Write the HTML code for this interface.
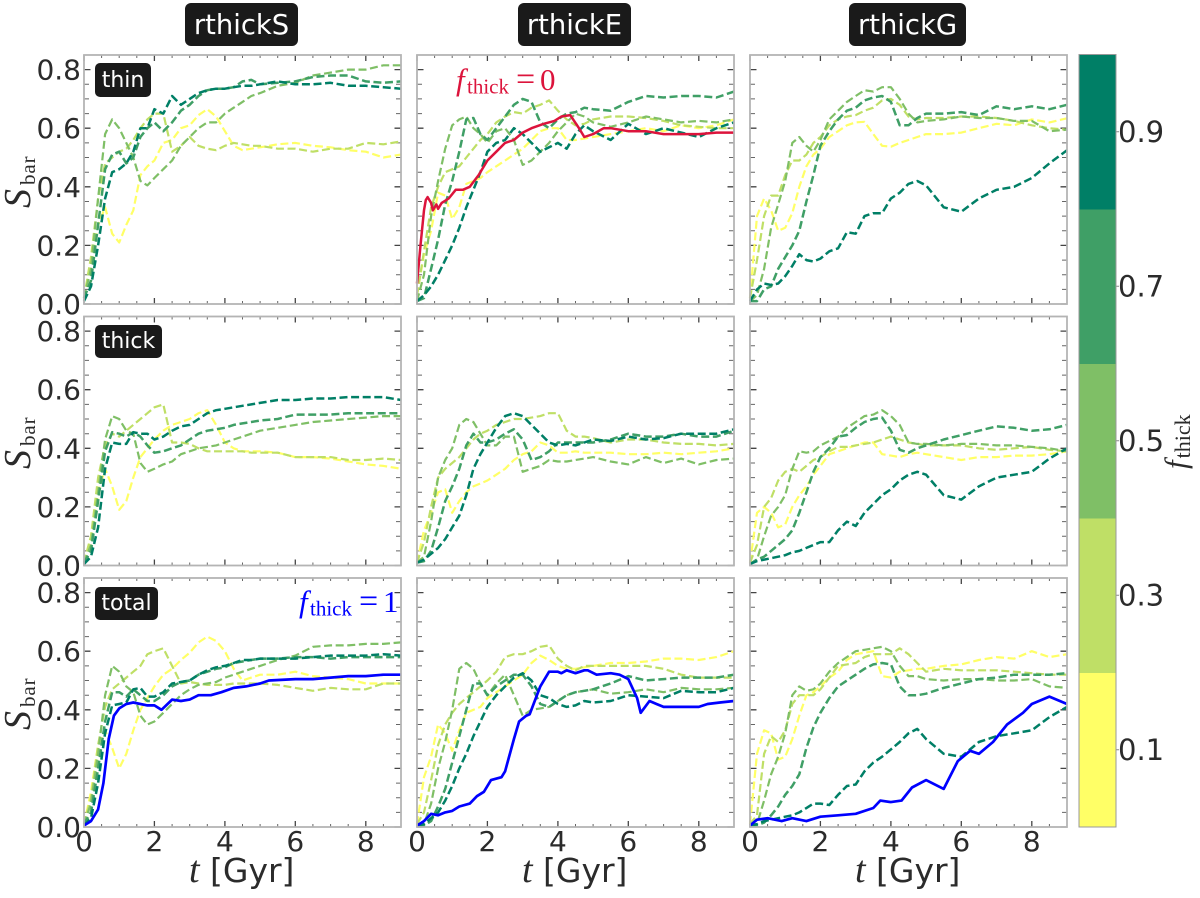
<!DOCTYPE html>
<html lang="en">
<head>
<meta charset="utf-8">
<title>Bar strength evolution</title>
<style>
html,body{margin:0;padding:0;background:#fff;width:1200px;height:898px;overflow:hidden}
svg{display:block}
text{font-family:"DejaVu Sans",sans-serif;fill:#2b2b2b}
.m{font-family:"Liberation Serif",serif}
.i{font-style:italic}
</style>
</head>
<body>
<svg id="chart" xmlns="http://www.w3.org/2000/svg" width="1200" height="898" viewBox="0 0 1200 898">
  <rect x="0" y="0" width="1200" height="898" fill="#fff"/>
  <g id="panels"></g>
  <g id="colorbar"></g>

  <rect x="185" y="3" width="113" height="43" rx="6" fill="#1a1a1a"/>
  <text x="241.5" y="34" text-anchor="middle" font-size="27.4" style="fill:#fff">rthickS</text>
  <rect x="518" y="3" width="113" height="43" rx="6" fill="#1a1a1a"/>
  <text x="574.5" y="34" text-anchor="middle" font-size="27.4" style="fill:#fff">rthickE</text>
  <rect x="849" y="3" width="117" height="43" rx="6" fill="#1a1a1a"/>
  <text x="907.5" y="34" text-anchor="middle" font-size="27.4" style="fill:#fff">rthickG</text>

  <rect x="95" y="63" width="56" height="34" rx="5" fill="#1a1a1a"/>
  <text x="123" y="87" text-anchor="middle" font-size="22" style="fill:#fff">thin</text>
  <rect x="95" y="325" width="67" height="33" rx="5" fill="#1a1a1a"/>
  <text x="128.5" y="348" text-anchor="middle" font-size="22" style="fill:#fff">thick</text>
  <rect x="95" y="587" width="63" height="33" rx="5" fill="#1a1a1a"/>
  <text x="126.5" y="610" text-anchor="middle" font-size="22" style="fill:#fff">total</text>

  <text class="m" y="90" style="fill:#dc143c"><tspan class="i" x="456" font-size="31" style="fill:#dc143c">f</tspan><tspan x="467" dy="3.5" font-size="21" style="fill:#dc143c">thick</tspan><tspan x="516" dy="-3.5" font-size="34" style="fill:#dc143c">=</tspan><tspan x="540" font-size="31" style="fill:#dc143c">0</tspan></text>
  <text class="m" y="612" style="fill:#0000ff"><tspan class="i" x="299" font-size="31" style="fill:#0000ff">f</tspan><tspan x="310" dy="3.5" font-size="21" style="fill:#0000ff">thick</tspan><tspan x="359" dy="-3.5" font-size="34" style="fill:#0000ff">=</tspan><tspan x="383" font-size="31" style="fill:#0000ff">1</tspan></text>

  <text class="m" transform="translate(30 208) rotate(-90)"><tspan class="i" font-size="38">S</tspan><tspan dx="4" dy="5" font-size="21" letter-spacing="0.9">bar</tspan></text>
  <text class="m" transform="translate(30 469) rotate(-90)"><tspan class="i" font-size="38">S</tspan><tspan dx="4" dy="5" font-size="21" letter-spacing="0.9">bar</tspan></text>
  <text class="m" transform="translate(30 730) rotate(-90)"><tspan class="i" font-size="38">S</tspan><tspan dx="4" dy="5" font-size="21" letter-spacing="0.9">bar</tspan></text>

  <text y="882" font-size="33"><tspan class="m i" x="189" font-size="38">t</tspan><tspan x="210">[Gyr]</tspan></text>
  <text y="882" font-size="33"><tspan class="m i" x="522" font-size="38">t</tspan><tspan x="543">[Gyr]</tspan></text>
  <text y="882" font-size="33"><tspan class="m i" x="855" font-size="38">t</tspan><tspan x="876">[Gyr]</tspan></text>

  <text class="m" transform="translate(1186 469) rotate(-90)"><tspan class="i" font-size="31">f</tspan><tspan dx="2" dy="4" font-size="22">thick</tspan></text>
</svg>
<script>
// shared time grid (Gyr) for the dashed runs
const times = [0,.2,.4,.6,.8,1, 1.2,1.4,1.6,1.8,2, 2.25,2.5,2.75,3,3.25, 3.5,3.75,4,4.25,4.5, 4.75,5,5.5,6,6.5, 7,7.5,8,8.5,9];

// row "thin", column rthickS
const thinS_f1 = [.02,.13,.27,.33,.24,.21, .27,.32,.44,.47,.49, .55,.56,.60,.61,.645, .665,.64,.59,.54,.525, .53,.535,.545,.55,.54, .535,.525,.52,.50,.51];
const thinS_f3 = [.02,.16,.36,.48,.50,.52, .53,.56,.60,.63,.65, .65,.52,.54,.57,.54, .53,.525,.54,.55,.545, .54,.54,.53,.53,.52, .53,.53,.55,.545,.555];
const thinS_f5 = [.02,.12,.36,.58,.63,.60, .55,.50,.42,.405,.43, .46,.49,.54,.57,.60, .62,.62,.65,.67,.69, .71,.72,.745,.755,.78, .79,.80,.80,.815,.815];
const thinS_f7 = [.02,.08,.27,.46,.51,.52, .48,.50,.57,.60,.62, .59,.62,.66,.68,.71, .73,.735,.735,.74,.76, .765,.75,.755,.76,.775, .78,.78,.76,.755,.76];
const thinS_f9 = [.01,.06,.2,.36,.45,.46, .48,.52,.60,.60,.665, .65,.71,.68,.70,.72, .73,.735,.735,.74,.745, .745,.75,.76,.75,.75, .755,.745,.745,.74,.735];

// row "thick", column rthickS
const thickS_f1 = [.01,.10,.25,.33,.27,.19, .22,.30,.37,.40,.43, .46,.48,.49,.50,.52, .53,.48,.42,.40,.39, .39,.39,.385,.37,.37, .365,.355,.345,.34,.33];
const thickS_f3 = [.01,.10,.30,.41,.45,.44, .46,.48,.50,.52,.54, .55,.42,.42,.415,.40, .39,.39,.39,.39,.39, .385,.385,.385,.37,.37, .37,.36,.36,.365,.36];
const thickS_f5 = [.01,.07,.25,.43,.51,.50, .46,.45,.35,.32,.33, .345,.355,.38,.39,.40, .405,.41,.42,.43,.44, .45,.46,.47,.48,.49, .495,.50,.505,.51,.51];
const thickS_f7 = [.01,.05,.22,.39,.455,.45, .44,.455,.44,.41,.385, .39,.40,.41,.43,.45, .46,.465,.47,.48,.485, .49,.495,.50,.515,.515, .515,.52,.52,.52,.52];
const thickS_f9 = [.005,.03,.13,.33,.42,.415, .415,.455,.45,.45,.43, .44,.46,.475,.48,.50, .52,.53,.535,.54,.545, .55,.555,.565,.565,.57, .57,.575,.575,.575,.565];

// row "total", column rthickS
const totalS_f1 = [.01,.12,.28,.33,.27,.20, .25,.33,.40,.44,.48, .52,.54,.57,.595,.63, .65,.635,.60,.54,.50, .51,.52,.52,.53,.515, .51,.505,.49,.49,.49];
const totalS_f3 = [.01,.10,.28,.41,.47,.49, .51,.53,.55,.59,.60, .61,.55,.49,.495,.49, .485,.485,.485,.49,.49, .49,.49,.485,.475,.465, .475,.47,.47,.49,.49];
const totalS_f5 = [.01,.08,.25,.45,.55,.53, .48,.46,.38,.35,.36, .39,.42,.45,.47,.485, .49,.495,.51,.52,.53, .54,.55,.57,.585,.615, .62,.62,.625,.625,.63];
const totalS_f7 = [.01,.05,.2,.36,.46,.46, .445,.47,.45,.43,.43, .45,.48,.495,.50,.52, .53,.54,.545,.56,.565, .57,.575,.575,.58,.58, .575,.58,.58,.58,.58];
const totalS_f9 = [.005,.03,.15,.32,.415,.42, .425,.47,.475,.445,.445, .46,.49,.495,.50,.52, .535,.545,.55,.56,.57, .57,.575,.575,.575,.58, .585,.585,.585,.59,.585];

// row "thin", column rthickE
const thinE_f1 = [.03,.17,.25,.38,.37,.29, .33,.41,.42,.43,.45, .47,.49,.51,.53,.56, .59,.60,.60,.56,.56, .565,.57,.58,.59,.60, .59,.61,.60,.61,.63];
const thinE_f3 = [.03,.18,.33,.40,.45,.46, .47,.50,.53,.56,.58, .62,.64,.655,.65,.67, .68,.695,.66,.63,.61, .615,.63,.64,.64,.635, .625,.61,.605,.60,.60];
const thinE_f5 = [.01,.10,.30,.42,.53,.61, .63,.64,.60,.58,.55, .59,.60,.56,.475,.49, .52,.55,.59,.62,.65, .64,.62,.605,.62,.64, .63,.62,.625,.62,.63];
const thinE_f7 = [.01,.02,.12,.22,.34,.42, .52,.63,.635,.58,.56, .60,.64,.68,.70,.69, .62,.60,.63,.65,.655, .67,.665,.66,.69,.71, .705,.71,.71,.705,.725];
const thinE_f9 = [.01,.03,.06,.10,.15,.20, .26,.33,.39,.45,.52, .55,.56,.60,.58,.55, .52,.535,.55,.53,.58, .61,.59,.56,.615,.58, .60,.585,.57,.60,.62];

// row "thick", column rthickE
const thickE_f1 = [.01,.12,.18,.25,.26,.18, .22,.25,.27,.28,.29, .31,.33,.36,.38,.39, .42,.41,.385,.385,.39, .385,.385,.385,.38,.38, .385,.38,.385,.39,.40];
const thickE_f3 = [.01,.08,.20,.30,.33,.35, .37,.40,.43,.45,.46, .48,.49,.50,.50,.505, .51,.52,.52,.46,.44, .44,.435,.42,.43,.43, .42,.415,.415,.41,.415];
const thickE_f5 = [.01,.03,.15,.30,.36,.40, .48,.50,.49,.45,.41, .41,.44,.44,.32,.33, .34,.36,.355,.355,.36, .365,.37,.355,.345,.37, .35,.365,.345,.36,.365];
const thickE_f7 = [.01,.015,.05,.13,.22,.27, .33,.41,.45,.42,.42, .43,.45,.465,.43,.36, .37,.39,.42,.42,.42, .42,.42,.43,.45,.44, .44,.45,.44,.44,.46];
const thickE_f9 = [.01,.02,.04,.06,.09,.13, .17,.24,.33,.38,.42, .47,.51,.52,.51,.48, .45,.42,.41,.415,.41, .42,.43,.425,.44,.43, .435,.45,.45,.45,.465];

// row "total", column rthickE
const totalE_f1 = [.01,.17,.24,.35,.32,.26, .33,.39,.40,.41,.44, .46,.48,.50,.52,.56, .585,.57,.55,.54,.54, .545,.55,.56,.56,.565, .575,.575,.57,.58,.60];
const totalE_f3 = [.01,.05,.16,.28,.35,.39, .42,.44,.46,.48,.50, .53,.58,.59,.59,.60, .615,.62,.575,.55,.535, .55,.55,.55,.55,.55, .54,.52,.51,.51,.51];
const totalE_f5 = [.005,.01,.08,.20,.29,.40, .54,.56,.54,.49,.45, .49,.52,.45,.38,.40, .405,.41,.43,.45,.46, .465,.47,.455,.46,.47, .46,.475,.47,.47,.475];
const totalE_f7 = [.005,.005,.02,.07,.13,.22, .31,.40,.49,.49,.45, .48,.50,.52,.52,.48, .42,.41,.43,.45,.46, .465,.47,.49,.515,.50, .505,.51,.51,.51,.52];
const totalE_f9 = [.005,.01,.03,.05,.09,.14, .20,.25,.31,.36,.41, .45,.48,.51,.525,.50, .45,.44,.42,.41,.415, .43,.425,.43,.45,.445, .44,.465,.46,.46,.475];

// row "thin", column rthickG
const thinG_f1 = [.02,.30,.36,.32,.25,.26, .31,.40,.47,.51,.53, .57,.59,.61,.62,.622, .58,.54,.537,.55,.56, .57,.58,.58,.585,.60, .615,.61,.63,.62,.634];
const thinG_f3 = [.02,.15,.30,.37,.37,.44, .49,.49,.51,.55,.57, .61,.63,.64,.645,.66, .67,.695,.70,.68,.64, .63,.635,.635,.64,.64, .635,.625,.61,.60,.595];
const thinG_f5 = [.01,.03,.12,.26,.34,.42, .55,.57,.54,.52,.56, .63,.66,.69,.71,.73, .725,.74,.74,.70,.65, .62,.625,.63,.64,.635, .635,.625,.625,.59,.595];
const thinG_f7 = [.01,.01,.05,.06,.12,.16, .20,.25,.35,.44,.54, .59,.63,.66,.67,.695, .705,.71,.69,.61,.61, .635,.65,.65,.655,.645, .675,.665,.675,.665,.68];
const thinG_f9 = [.01,.05,.07,.065,.07,.095, .13,.17,.15,.145,.155, .18,.19,.245,.24,.30, .31,.31,.36,.38,.41, .42,.405,.33,.315,.36, .39,.40,.43,.48,.525];

// row "thick", column rthickG
const thickG_f1 = [.01,.18,.20,.18,.13,.14, .20,.24,.27,.31,.34, .38,.39,.40,.41,.42, .42,.38,.375,.37,.38, .385,.38,.37,.36,.37, .37,.375,.375,.38,.39];
const thickG_f3 = [.01,.07,.20,.23,.29,.32, .33,.32,.34,.36,.37, .39,.405,.405,.41,.415, .42,.43,.44,.43,.42, .415,.41,.41,.41,.40, .395,.40,.405,.395,.39];
const thickG_f5 = [.005,.02,.10,.17,.20,.24, .33,.39,.385,.39,.41, .425,.44,.47,.49,.51, .515,.53,.51,.48,.42, .415,.415,.41,.415,.415, .41,.41,.405,.40,.39];
const thickG_f7 = [.005,.02,.03,.05,.07,.09, .12,.18,.25,.32,.37, .40,.44,.445,.47,.49, .50,.505,.46,.395,.385, .40,.41,.43,.445,.46, .475,.47,.46,.465,.48];
const thickG_f9 = [.005,.015,.02,.025,.03,.035, .045,.05,.06,.07,.08, .08,.12,.15,.135,.18, .21,.24,.26,.29,.31, .32,.31,.24,.225,.27, .30,.31,.32,.365,.40];

// row "total", column rthickG
const totalG_f1 = [.01,.25,.33,.32,.23,.24, .30,.38,.45,.46,.48, .51,.53,.57,.59,.595, .60,.515,.51,.53,.535, .54,.54,.55,.555,.57, .58,.575,.60,.58,.59];
const totalG_f3 = [.01,.04,.25,.31,.29,.33, .42,.45,.45,.45,.47, .51,.55,.555,.56,.58, .59,.59,.59,.61,.59, .56,.53,.54,.535,.535, .535,.53,.525,.52,.52];
const totalG_f5 = [.005,.01,.09,.18,.24,.32, .45,.48,.465,.47,.49, .53,.56,.58,.60,.605, .61,.615,.60,.55,.515, .515,.505,.50,.505,.505, .50,.50,.505,.48,.475];
const totalG_f7 = [.005,.005,.015,.04,.07,.11, .14,.18,.27,.34,.39, .44,.48,.50,.52,.54, .555,.56,.555,.48,.45, .45,.455,.475,.49,.505, .51,.52,.52,.52,.525];
const totalG_f9 = [.005,.01,.02,.025,.03,.035, .04,.05,.065,.08,.08, .075,.11,.14,.145,.19, .22,.24,.265,.29,.32, .335,.30,.25,.24,.29, .31,.32,.33,.375,.41];

// solid reference runs with their own time samples
const redThinE_t = [0,.1,.2,.25,.3,.4,.45,.55,.6,.7,.9,1.1,1.3,1.5,1.75,2,2.25,2.5,2.75,3,3.25,3.6,3.9,4.1,4.35,4.6,4.75,5,5.3,5.5,6,6.5,7,7.5,8,8.5,9];
const redThinE_v = [.07,.2,.32,.355,.365,.345,.32,.34,.325,.345,.36,.39,.39,.40,.44,.49,.52,.55,.56,.585,.60,.615,.625,.64,.645,.60,.57,.58,.60,.60,.59,.59,.58,.58,.58,.585,.585];
const blueTotalS_t = [0,.2,.4,.55,.7,.85,1,1.2,1.4,1.8,2,2.2,2.5,2.75,3,3.25,3.6,3.9,4.25,4.6,5,5.25,6,6.5,7,7.5,8,8.5,9];
const blueTotalS_v = [.005,.02,.06,.15,.30,.38,.405,.42,.425,.415,.415,.40,.435,.43,.435,.45,.45,.46,.475,.48,.49,.50,.505,.505,.51,.515,.515,.52,.52];
const blueTotalE_t = [0,.2,.4,.6,.8,1,1.2,1.5,1.7,1.9,2.1,2.4,2.5,2.75,2.9,3.1,3.2,3.5,3.75,4,4.1,4.25,4.5,4.75,4.85,5.1,5.5,5.75,6,6.25,6.35,6.6,6.8,7,7.5,8,8.25,8.6,9];
const blueTotalE_v = [.005,.02,.045,.04,.05,.055,.07,.08,.105,.12,.16,.17,.19,.30,.36,.38,.385,.48,.53,.53,.525,.535,.525,.535,.535,.52,.525,.52,.505,.44,.39,.43,.42,.41,.41,.41,.42,.425,.43];
const blueTotalG_t = [0,.2,.5,.9,1.2,1.6,2,2.5,3,3.5,3.7,4,4.3,4.6,5,5.5,5.9,6.25,6.5,6.9,7.3,7.75,8,8.5,9];
const blueTotalG_v = [.005,.025,.03,.02,.03,.02,.035,.04,.045,.065,.09,.085,.09,.135,.16,.13,.225,.26,.25,.29,.35,.39,.42,.445,.42];

// tick labels and colour levels
const xTickValues = [0,2,4,6,8];
const xTickLabels = ['0','2','4','6','8'];
const yTickValues = [0,.2,.4,.6,.8];
const yTickLabels = ['0.0','0.2','0.4','0.6','0.8'];
const rowNames = ['thin','thick','total'];
const colNames = ['rthicks','rthicke','rthickg'];
const fLevels = [.1,.3,.5,.7,.9];
const fLabels = ['0.1','0.3','0.5','0.7','0.9'];
const fColors = ['#ffff66','#bfdf66','#7fbf66','#3f9f66','#007f66'];

const dashedGrid = [
  [[thinS_f1,thinS_f3,thinS_f5,thinS_f7,thinS_f9],[thinE_f1,thinE_f3,thinE_f5,thinE_f7,thinE_f9],[thinG_f1,thinG_f3,thinG_f5,thinG_f7,thinG_f9]],
  [[thickS_f1,thickS_f3,thickS_f5,thickS_f7,thickS_f9],[thickE_f1,thickE_f3,thickE_f5,thickE_f7,thickE_f9],[thickG_f1,thickG_f3,thickG_f5,thickG_f7,thickG_f9]],
  [[totalS_f1,totalS_f3,totalS_f5,totalS_f7,totalS_f9],[totalE_f1,totalE_f3,totalE_f5,totalE_f7,totalE_f9],[totalG_f1,totalG_f3,totalG_f5,totalG_f7,totalG_f9]]
];

const NS = 'http://www.w3.org/2000/svg';
const PW = 317, PH = 249, XMAX = 9, YMAX = 0.85;
const left = c => 84 + 333 * c;
const top_ = r => 55 + 261.5 * r;
const xScale = (c, t) => left(c) + t / XMAX * PW;
const yScale = (r, v) => top_(r) + PH - v / YMAX * PH;
const cbScale = v => 827 - v * 772.5;

function mk(parent, tag, attrs, txt) {
  const el = document.createElementNS(NS, tag);
  for (const k in attrs) el.setAttribute(k, attrs[k]);
  if (txt !== undefined) el.textContent = txt;
  parent.appendChild(el);
  return el;
}

function drawLine(g, r, c, ts, vs, color, width, dash, name) {
  const n = Math.min(ts.length, vs.length);
  const pts = [];
  for (let i = 0; i < n; i++) pts.push(xScale(c, ts[i]).toFixed(1) + ',' + yScale(r, vs[i]).toFixed(1));
  const el = mk(g, 'polyline', {points: pts.join(' '), fill: 'none', stroke: color, 'stroke-width': width, 'stroke-linejoin': 'round'});
  if (dash) el.setAttribute('stroke-dasharray', dash);
  
  
}

function drawTicks(g, r, c) {
  const x0 = left(c), x1 = x0 + PW, y0 = top_(r), y1 = y0 + PH;
  let d = '', dm = '';
  for (let k = 0; k <= 18; k++) {
    const x = xScale(c, k * 0.5).toFixed(1);
    const maj = k % 4 === 0, L = maj ? 6 : 3;
    const seg = `M${x} ${y0}v${L}M${x} ${y1}v${-L}`;
    if (maj) d += seg; else dm += seg;
  }
  for (let k = 0; k * 0.05 <= YMAX + 1e-6; k++) {
    const y = yScale(r, k * 0.05).toFixed(1);
    const maj = k % 4 === 0, L = maj ? 6.5 : 5;
    const seg = `M${x0} ${y}h${L}M${x1} ${y}h${-L}`;
    if (maj) d += seg; else dm += seg;
  }
  const minor = mk(g, 'path', {d: dm, stroke: '#666', 'stroke-width': 1, fill: 'none'});
  
  
  const major = mk(g, 'path', {d: d, stroke: '#444', 'stroke-width': 1.3, fill: 'none'});
  
  
}

const root = document.getElementById('panels');
for (let r = 0; r < 3; r++) {
  for (let c = 0; c < 3; c++) {
    const g = mk(root, 'g', {});
    
    
    const bg = mk(g, 'rect', {x: left(c), y: top_(r), width: PW, height: PH, fill: '#fff'});
    
    
    drawTicks(g, r, c);
    dashedGrid[r][c].forEach((vals, i) => {
      drawLine(g, r, c, times, vals, fColors[i], i >= 3 ? 2.5 : 2.2, '8 3.6', 'line-fthick-' + fLabels[i]);
    });
    if (r === 0 && c === 1) drawLine(g, r, c, redThinE_t, redThinE_v, '#dc143c', 2.5, '', 'line-fthick-0');
    if (r === 2 && c === 0) drawLine(g, r, c, blueTotalS_t, blueTotalS_v, '#0000ff', 2.7, '', 'line-fthick-1');
    if (r === 2 && c === 1) drawLine(g, r, c, blueTotalE_t, blueTotalE_v, '#0000ff', 2.7, '', 'line-fthick-1');
    if (r === 2 && c === 2) drawLine(g, r, c, blueTotalG_t, blueTotalG_v, '#0000ff', 2.7, '', 'line-fthick-1');
    const frame = mk(g, 'rect', {x: left(c), y: top_(r), width: PW, height: PH, fill: 'none', stroke: '#b4b4b4', 'stroke-width': 1.8});
    
    
    if (c === 0) {
      yTickValues.forEach((v, i) => {
        const t = mk(g, 'text', {x: 81, y: yScale(r, v) + 10, 'text-anchor': 'end', 'font-size': 28}, yTickLabels[i]);
        
        
      });
    }
    if (r === 2) {
      xTickValues.forEach((v, i) => {
        const t = mk(g, 'text', {x: xScale(c, v), y: 851, 'text-anchor': 'middle', 'font-size': 28}, xTickLabels[i]);
        
        
      });
    }
  }
}

const cb = document.getElementById('colorbar');
fLevels.forEach((lv, i) => {
  const hi = cbScale(lv + 0.1), lo = cbScale(lv - 0.1);
  const seg = mk(cb, 'rect', {x: 1079, y: hi, width: 37, height: lo - hi + 0.5, fill: fColors[i]});
  
  
  const tick = mk(cb, 'line', {x1: 1116, x2: 1119, y1: cbScale(lv), y2: cbScale(lv), stroke: '#888', 'stroke-width': 1});
  
  
  const t = mk(cb, 'text', {x: 1118, y: cbScale(lv) + 10, 'font-size': 29}, fLabels[i]);
  
  
});
const cbFrame = mk(cb, 'rect', {x: 1079, y: cbScale(1), width: 37, height: cbScale(0) - cbScale(1), fill: 'none', stroke: '#999', 'stroke-width': 1});


</script>
</body>
</html>
